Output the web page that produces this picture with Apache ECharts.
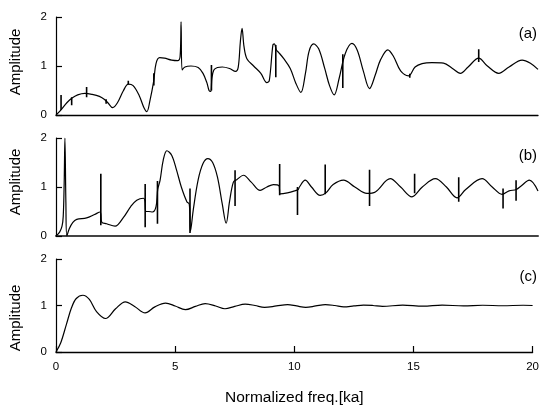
<!DOCTYPE html>
<html>
<head>
<meta charset="utf-8">
<script src="https://cdn.jsdelivr.net/npm/echarts@6/dist/echarts.min.js"></script>
<style>
html,body{margin:0;padding:0;background:#fff;}
#c{width:542px;height:407px;}
</style>
</head>
<body>
<div id="c"></div>
<script>
// Panel (a): smooth response curve [freq, amplitude]
const curveA = [
  [0.0,0.0],[0.2,0.1],[0.45,0.25],[0.65,0.34],[0.9,0.41],[1.2,0.44],[1.5,0.42],[1.8,0.38],[2.0,0.32],
  [2.15,0.25],[2.35,0.15],[2.55,0.25],[2.8,0.5],[3.0,0.63],[3.2,0.6],[3.45,0.4],[3.65,0.15],[3.77,0.07],
  [3.9,0.3],[4.05,0.68],[4.15,1.05],[4.3,1.17],[4.5,1.16],[4.8,1.12],[5.05,1.11],[5.15,1.2],[5.19,1.9],
  [5.23,0.92],[5.35,0.98],[5.6,1.0],[5.9,0.97],[6.1,0.85],[6.26,0.66],[6.35,0.5],[6.42,0.48],[6.47,0.75],
  [6.55,0.92],[6.7,0.97],[6.9,0.98],[7.2,0.95],[7.45,0.89],[7.56,0.97],[7.65,1.5],[7.72,1.77],[7.8,1.4],
  [7.92,1.15],[8.2,1.0],[8.5,0.85],[8.75,0.66],[8.85,0.7],[9.0,1.43],[9.06,1.45],[9.15,1.32],[9.25,1.27],
  [9.45,1.15],[9.72,0.95],[9.95,0.65],[10.16,0.46],[10.35,0.85],[10.5,1.3],[10.69,1.45],[10.9,1.35],
  [11.15,0.95],[11.35,0.6],[11.54,0.41],[11.75,0.75],[12.0,1.25],[12.28,1.46],[12.5,1.32],[12.75,0.9],
  [13.01,0.54],[13.25,0.82],[13.46,1.12],[13.77,1.33],[14.0,1.2],[14.3,0.9],[14.63,0.8],[14.9,0.98],
  [15.19,1.05],[15.6,1.07],[16.08,1.06],[16.45,0.95],[16.78,0.85],[17.1,0.98],[17.54,1.16],[17.9,1.0],
  [18.37,0.85],[18.8,0.98],[19.34,1.12],[19.7,1.05],[20.0,0.93]
];
// Panel (a): narrow spikes [freq, low, high]
const spikesA = [
  [0.21,0.1,0.41],[0.65,0.2,0.36],[1.27,0.36,0.57],[2.08,0.23,0.32],[3.0,0.62,0.7],[4.06,0.6,0.85],
  [6.45,0.5,1.02],[9.12,0.77,1.43],[11.9,0.55,1.24],[14.68,0.76,0.84],[17.54,1.08,1.34]
];
// Panel (b)
const curveB = [
  [0.0,0.0],[0.15,0.08],[0.25,0.2],[0.3,0.4],[0.34,1.1],[0.37,2.0],[0.41,0.7],[0.45,0.0],[0.55,0.15],
  [0.7,0.28],[0.86,0.34],[1.27,0.37],[1.6,0.44],[1.83,0.49],[1.9,0.28],[2.1,0.25],[2.45,0.2],[2.8,0.38],
  [3.1,0.6],[3.35,0.73],[3.63,0.77],[3.69,0.72],[3.73,0.5],[3.85,0.5],[4.0,0.49],[4.15,0.6],[4.22,0.95],
  [4.32,1.14],[4.45,1.55],[4.6,1.74],[4.8,1.65],[5.0,1.35],[5.2,1.0],[5.43,0.7],[5.53,0.65],[5.58,0.1],
  [5.7,0.55],[5.9,1.15],[6.1,1.48],[6.3,1.58],[6.5,1.5],[6.7,1.2],[6.9,0.65],[7.06,0.26],[7.2,0.7],
  [7.36,1.1],[7.5,1.15],[7.78,1.24],[8.1,1.1],[8.47,0.93],[8.75,1.0],[9.02,1.05],[9.25,1.03],[9.3,0.86],
  [9.6,0.88],[9.9,0.92],[10.05,0.95],[10.1,1.0],[10.34,1.14],[10.6,1.0],[10.96,0.83],[11.2,0.88],
  [11.5,1.05],[11.93,1.14],[12.4,1.0],[12.9,0.87],[13.25,0.9],[13.87,1.17],[14.3,1.0],[14.77,0.8],
  [15.2,1.0],[15.74,1.17],[16.2,1.0],[16.64,0.78],[17.0,0.95],[17.68,1.17],[18.1,1.0],[18.51,0.85],
  [18.8,0.92],[19.1,0.95],[19.3,1.02],[19.64,1.14],[20.0,0.92]
];
const spikesB = [
  [1.86,0.22,1.27],[3.7,0.18,1.06],[4.21,0.25,1.12],[5.56,0.06,0.97],[7.43,0.61,1.34],[9.28,0.83,1.47],
  [10.02,0.43,1.0],[11.17,0.85,1.46],[13.01,0.61,1.35],[14.88,0.87,1.27],[16.71,0.7,1.2],
  [18.55,0.56,0.97],[19.09,0.72,1.14]
];
// Panel (c)
const curveC = [
  [0,0],[0.2,0.2],[0.44,0.6],[0.65,0.95],[0.85,1.15],[1.13,1.22],[1.4,1.13],[1.7,0.87],[2.08,0.72],
  [2.5,0.93],[2.91,1.08],[3.3,0.98],[3.74,0.84],[4.15,0.97],[4.6,1.05],[5.0,0.99],[5.43,0.91],[5.85,0.98],
  [6.26,1.04],[6.7,0.99],[7.09,0.93],[7.5,0.98],[7.94,1.03],[8.35,1.0],[8.75,0.96],[9.25,0.99],[9.72,1.02],
  [10.1,0.99],[10.48,0.96],[10.9,0.99],[11.3,1.02],[11.7,1.0],[12.07,0.97],[12.5,0.99],[12.9,1.01],
  [13.3,1.0],[13.7,0.98],[14.55,1.01],[15.4,0.985],[16.2,1.01],[17.1,0.99],[17.9,1.005],[18.75,0.995],
  [19.6,1.005],[20,1.0]
];
const panelLabels = ['(a)','(b)','(c)'];
const xTicks = [0,5,10,15,20];
const yTicks = [0,1,2];
const xName = 'Normalized freq.[ka]';
const yName = 'Amplitude';

function spikeData(sp){
  const out=[];
  sp.forEach(s=>{out.push([s[0],s[1]]);out.push([s[0],s[2]]);out.push([s[0],'-']);});
  return out;
}
const FONT = 'Liberation Sans, Arial, sans-serif';
const grids = [
  {left:56,right:4,top:17,height:98},
  {left:56,right:4,top:138,height:98},
  {left:56,right:4,top:259,height:97}
];
const xAxes = grids.map((g,i)=>({
  type:'value',gridIndex:i,min:xTicks[0],max:xTicks[xTicks.length-1],interval:5,
  axisLine:{show:true,onZero:false,lineStyle:{color:i===1?'#444':'#000',width:i===1?2:1.3}},
  axisTick:{show:i===2,inside:true,length:6,lineStyle:{color:'#000',width:1.2}},
  axisLabel:{show:i===2,color:'#000',fontSize:11.5,fontFamily:FONT,margin:9},
  splitLine:{show:false},
  name:i===2?xName:'',nameLocation:'middle',nameGap:38,
  nameTextStyle:{color:'#000',fontSize:15.5,fontFamily:FONT}
}));
const yAxes = grids.map((g,i)=>({
  type:'value',gridIndex:i,min:yTicks[0],max:yTicks[yTicks.length-1],interval:1,
  axisLine:{show:true,lineStyle:{color:'#000',width:1.2}},
  axisTick:{show:true,inside:true,length:6,lineStyle:{color:'#000',width:1.2}},
  axisLabel:{color:'#000',fontSize:11.5,fontFamily:FONT,margin:9},
  splitLine:{show:false}
}));
const curves=[curveA,curveB,curveC], spikes=[spikesA,spikesB,[]];
const series=[];
curves.forEach((c,i)=>{
  series.push({type:'line',xAxisIndex:i,yAxisIndex:i,data:c,smooth:0.35,showSymbol:false,symbol:'none',
    lineStyle:{color:'#000',width:1.2},silent:true,animation:false,clip:true});
  if(spikes[i].length){
    series.push({type:'line',xAxisIndex:i,yAxisIndex:i,data:spikeData(spikes[i]),smooth:false,showSymbol:false,symbol:'none',
      connectNulls:false,lineStyle:{color:'#000',width:1.6},silent:true,animation:false});
  }
});
const labelY=[35,157,278], ampY=[62,182,318];
const graphic=[];
panelLabels.forEach((t,i)=>{
  graphic.push({type:'text',right:5,top:labelY[i]-9,style:{text:t,fill:'#000',font:'15px '+FONT}});
  graphic.push({type:'text',x:16,y:ampY[i],rotation:Math.PI/2,
    style:{text:yName,fill:'#000',font:'15px '+FONT,textAlign:'center',textVerticalAlign:'middle'}});
});
const chart=echarts.init(document.getElementById('c'),null,{renderer:'canvas'});
chart.setOption({animation:false,backgroundColor:'#fff',grid:grids,xAxis:xAxes,yAxis:yAxes,series:series,graphic:graphic});
</script>
</body>
</html>
